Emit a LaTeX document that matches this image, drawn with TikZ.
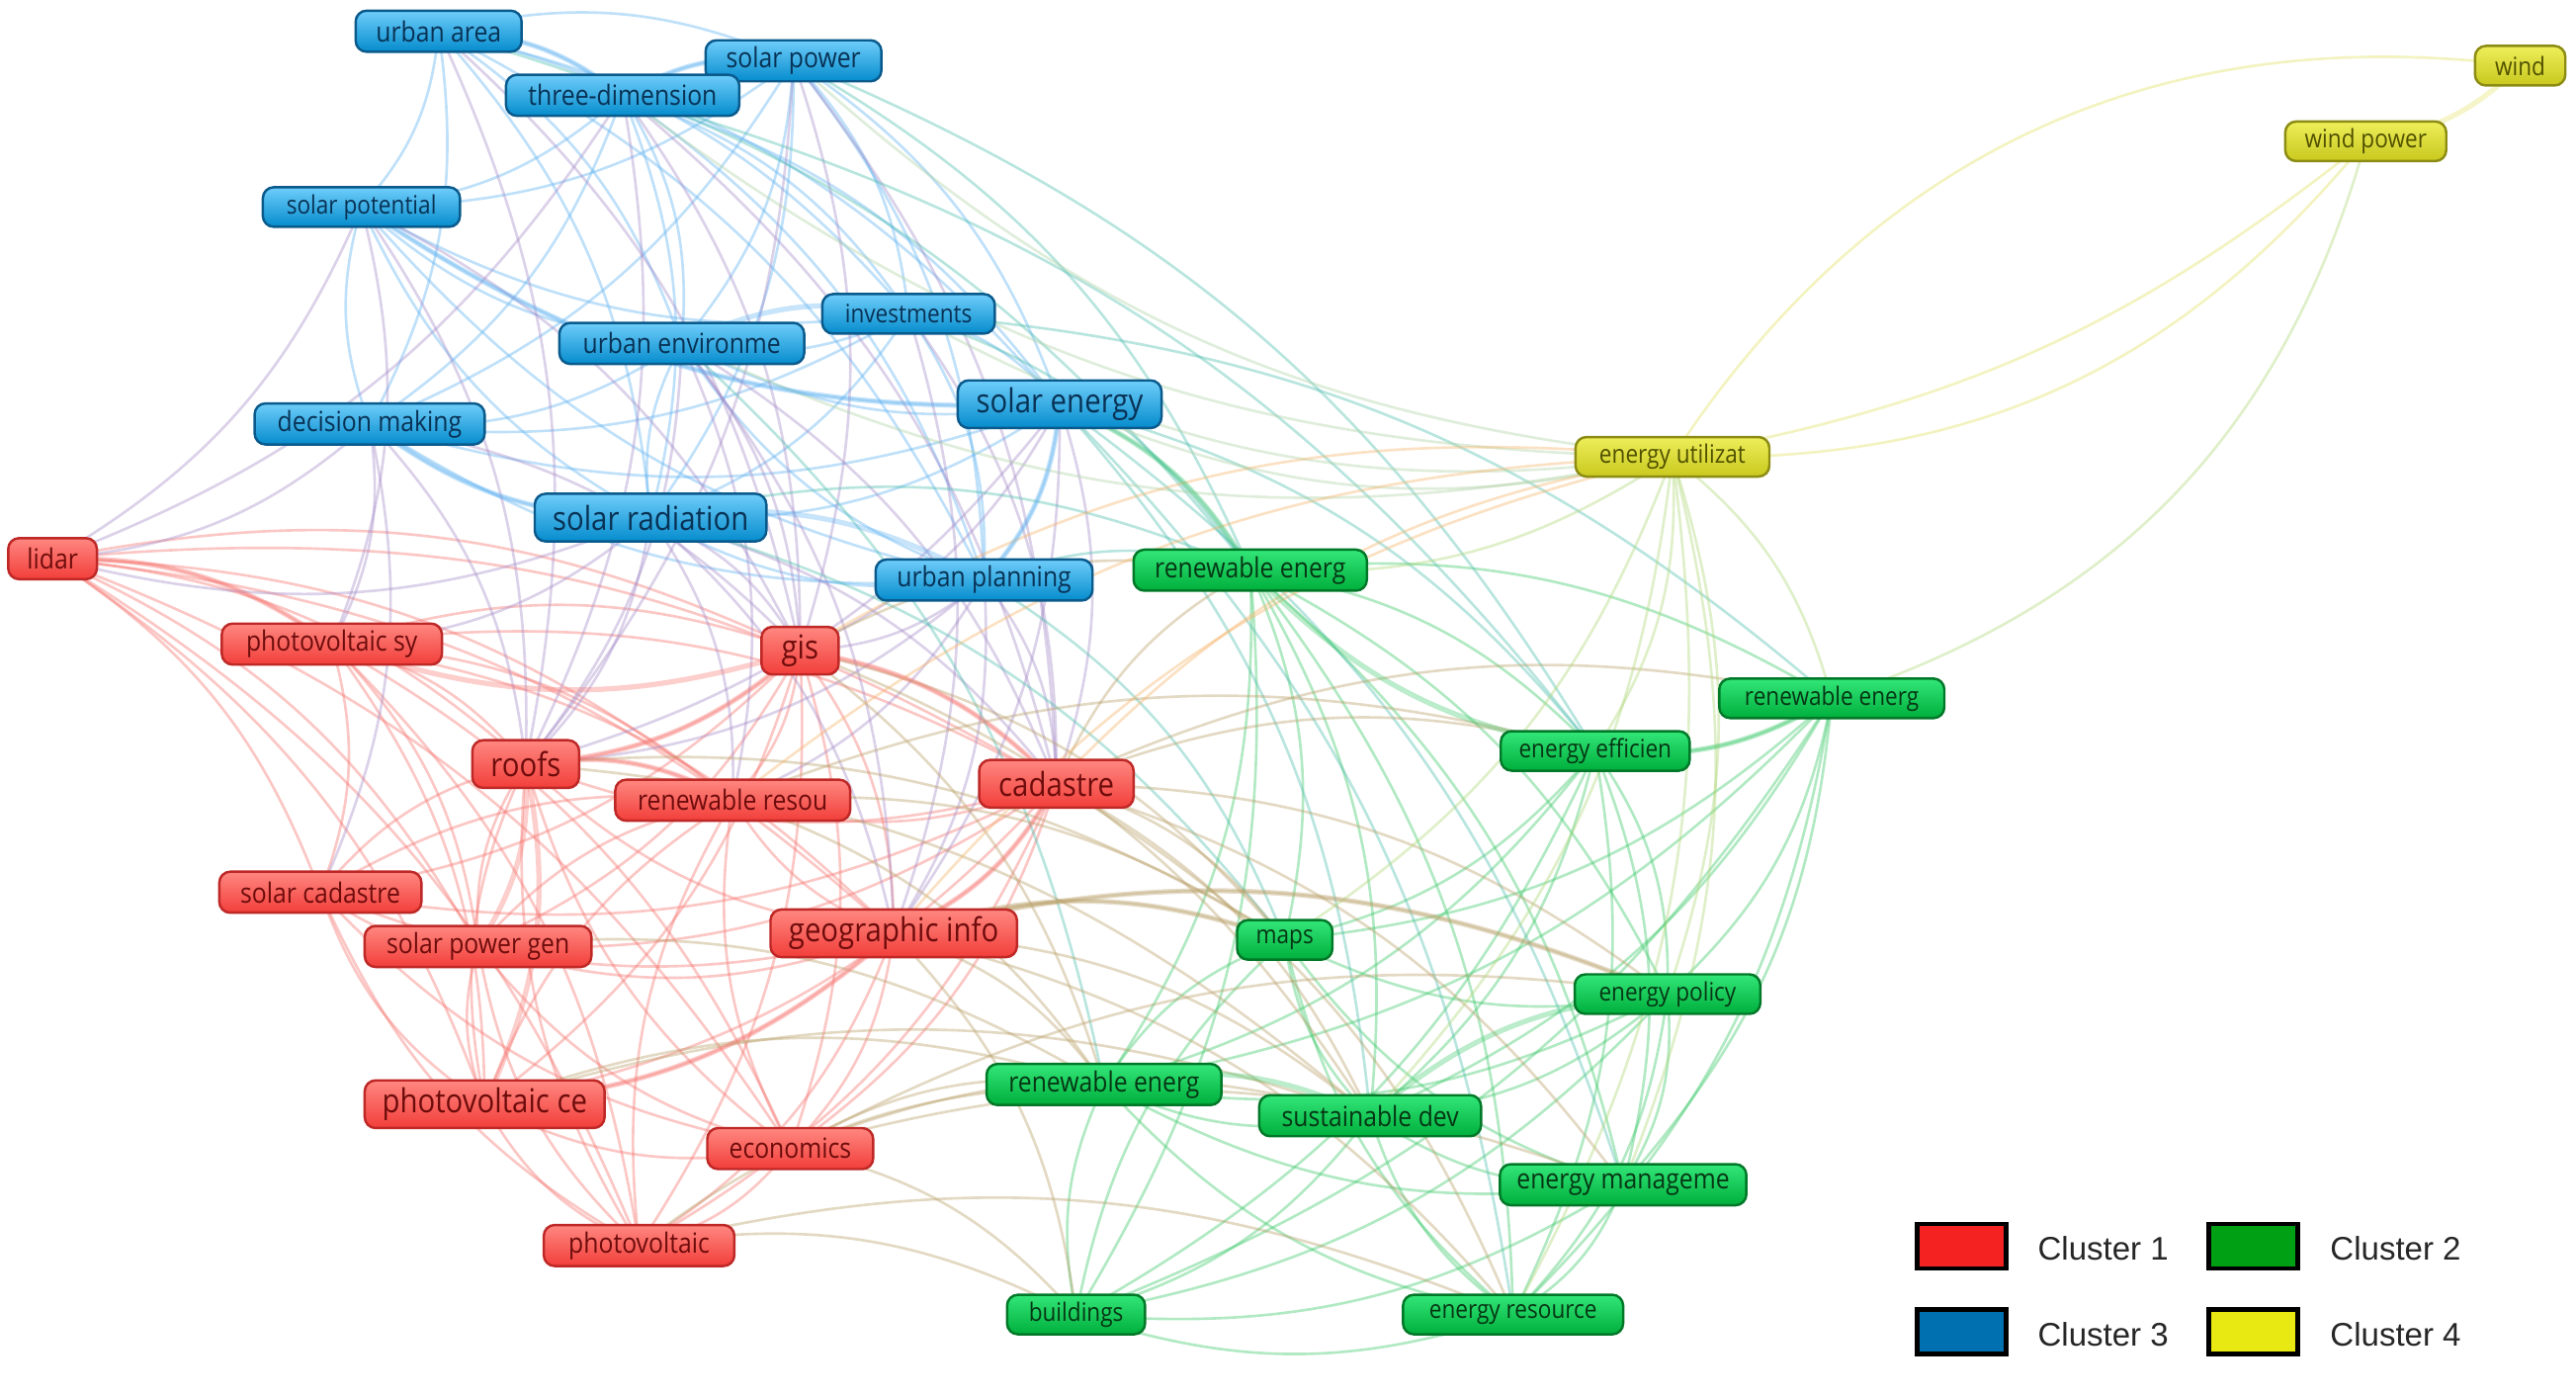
\documentclass[tikz,border=0pt]{standalone}
\usepackage{fontspec}
\newfontfamily\nodefont[FakeStretch=0.88]{Open Sans}
\newfontfamily\legfont{Liberation Sans}
\usetikzlibrary{backgrounds}
\definecolor{bTop}{RGB}{110,205,250}
\definecolor{bBot}{RGB}{5,140,205}
\definecolor{bDr}{RGB}{10,90,140}
\definecolor{bTx}{RGB}{8,50,85}
\definecolor{rTop}{RGB}{255,135,128}
\definecolor{rBot}{RGB}{242,62,58}
\definecolor{rDr}{RGB}{190,40,38}
\definecolor{rTx}{RGB}{110,12,12}
\definecolor{gTop}{RGB}{50,230,120}
\definecolor{gBot}{RGB}{0,175,60}
\definecolor{gDr}{RGB}{0,120,40}
\definecolor{gTx}{RGB}{5,55,20}
\definecolor{yTop}{RGB}{238,238,90}
\definecolor{yBot}{RGB}{200,200,30}
\definecolor{yDr}{RGB}{140,140,20}
\definecolor{yTx}{RGB}{80,80,0}
\definecolor{eBB}{RGB}{95,178,240}
\definecolor{eRR}{RGB}{245,115,110}
\definecolor{eGG}{RGB}{60,200,105}
\definecolor{eYY}{RGB}{225,225,100}
\definecolor{eBR}{RGB}{165,140,200}
\definecolor{eBG}{RGB}{80,190,175}
\definecolor{eRG}{RGB}{185,160,105}
\definecolor{eGY}{RGB}{175,215,120}
\definecolor{eRY}{RGB}{245,180,105}
\definecolor{eBY}{RGB}{175,210,165}
\definecolor{lRed}{RGB}{245,34,34}
\definecolor{lGreen}{RGB}{0,160,20}
\definecolor{lBlue}{RGB}{0,112,176}
\definecolor{lYellow}{RGB}{232,232,18}
\newcommand\kwnode[6]{\node[#1, minimum width=#2*0.01662cm] (#3) at (#4,#5) {#6};}
\newcommand\allpairs[2]{%
  \foreach \a [count=\i] in {#2} {\foreach \b [count=\j] in {#2} {%
    \ifnum\i<\j \draw[#1] (\a.center) to[bend left=18] (\b.center);\fi}}}
\newcommand\somepairs[2]{%
  \foreach \a/\b in {#2} {\draw[#1] (\a.center) to[bend left=18] (\b.center);}}
\begin{document}
\begin{tikzpicture}[x=0.01662cm,y=-0.01662cm,
  box/.style={rounded corners=0.11cm, inner sep=0pt, line width=0.7pt,
    minimum height=0.415cm, font=\nodefont\fontsize{8}{9}\selectfont},
  lg/.style={box, minimum height=0.482cm, font=\nodefont\fontsize{9.5}{10}\selectfont},
  sm/.style={box, minimum height=0.40cm, font=\nodefont\fontsize{7.3}{8}\selectfont},
  bc/.style={top color=bTop, bottom color=bBot, draw=bDr, text=bTx},
  rc/.style={top color=rTop, bottom color=rBot, draw=rDr, text=rTx},
  gc/.style={top color=gTop, bottom color=gBot, draw=gDr, text=gTx},
  yc/.style={top color=yTop, bottom color=yBot, draw=yDr, text=yTx},
  edge/.style={draw=#1, line width=0.75pt, draw opacity=0.4},
  thick edge/.style={draw=#1, line width=1.5pt, draw opacity=0.35},
  legbox/.style={draw=black, line width=1.3pt, minimum width=0.897cm, minimum height=0.449cm, inner sep=0pt},
  legtxt/.style={anchor=west, inner sep=0pt, font=\legfont\fontsize{9.4}{11}\selectfont, text=black!85}
]
\useasboundingbox (0,0) rectangle (1568,849);
% ---- blue cluster
\kwnode{box,bc}{101}{ua}{267}{19}{urban area}
\kwnode{box,bc}{107}{sp}{483}{37}{solar power}
\kwnode{box,bc}{142}{td}{379}{58}{three-dimension}
\kwnode{sm,bc}{120}{spot}{220}{126}{solar potential}
\kwnode{sm,bc}{105}{inv}{553}{191}{investments}
\kwnode{box,bc}{149}{ue}{415}{209}{urban environme}
\kwnode{lg,bc}{124}{se}{645}{246}{solar energy}
\kwnode{box,bc}{140}{dm}{225}{258}{decision making}
\kwnode{lg,bc}{141}{sr}{396}{315}{solar radiation}
\kwnode{box,bc}{132}{up}{599}{353}{urban planning}
% ---- red cluster
\kwnode{box,rc}{54}{li}{32}{340}{lidar}
\kwnode{box,rc}{134}{pvs}{202}{392}{photovoltaic sy}
\kwnode{lg,rc}{47}{gis}{487}{396}{gis}
\kwnode{lg,rc}{65}{roofs}{320}{465}{roofs}
\kwnode{box,rc}{143}{rr}{446}{487}{renewable resou}
\kwnode{lg,rc}{94}{cad}{643}{477}{cadastre}
\kwnode{box,rc}{123}{sc}{195}{543}{solar cadastre}
\kwnode{box,rc}{138}{spg}{291}{576}{solar power gen}
\kwnode{lg,rc}{150}{gi}{544}{568}{geographic info}
\kwnode{lg,rc}{146}{pvc}{295}{672}{photovoltaic ce}
\kwnode{box,rc}{101}{eco}{481}{699}{economics}
\kwnode{box,rc}{116}{pv}{389}{758}{photovoltaic}
% ---- green cluster
\kwnode{box,gc}{142}{reA}{761}{347}{renewable energ}
\kwnode{sm,gc}{137}{reB}{1115}{425}{renewable energ}
\kwnode{sm,gc}{115}{ee}{971}{457}{energy efficien}
\kwnode{sm,gc}{58}{maps}{782}{572}{maps}
\kwnode{sm,gc}{113}{ep}{1015}{605}{energy policy}
\kwnode{box,gc}{143}{reC}{672}{660}{renewable energ}
\kwnode{box,gc}{135}{sd}{834}{679}{sustainable dev}
\kwnode{box,gc}{150}{em}{988}{721}{energy manageme}
\kwnode{sm,gc}{84}{bld}{655}{800}{buildings}
\kwnode{sm,gc}{134}{er}{921}{800}{energy resource}
% ---- yellow cluster
\kwnode{sm,yc}{55}{wind}{1534}{40}{wind}
\kwnode{sm,yc}{98}{wp}{1440}{86}{wind power}
\kwnode{sm,yc}{118}{eu}{1018}{278}{energy utilizat}
% ---- legend
\node[legbox, fill=lRed] (lr) at (1194,758.5) {};
\node[legbox, fill=lGreen] (lgn) at (1371.5,758.5) {};
\node[legbox, fill=lBlue] (lb) at (1194,810.5) {};
\node[legbox, fill=lYellow] (ly) at (1371.5,810.5) {};
\node[legtxt] (t1) at (1240,760) {Cluster 1};
\node[legtxt] (t2) at (1418,760) {Cluster 2};
\node[legtxt] (t3) at (1240,812) {Cluster 3};
\node[legtxt] (t4) at (1418,812) {Cluster 4};
% ---- edges
\begin{pgfonlayer}{background}
\allpairs{edge=eBB}{ua,td,sp,inv,se,up,sr,ue,dm,spot}
\allpairs{edge=eRR}{li,pvs,gis,cad,gi,eco,pv,pvc,spg,sc,roofs,rr}
\allpairs{edge=eGG}{reA,reB,ee,ep,em,er,sd,bld,reC,maps}
\somepairs{edge=eBR}{sr/gis,sr/roofs,sr/cad,sr/gi,sr/pvs,sr/li,se/gis,se/cad,se/gi,se/roofs,
  up/gis,up/cad,up/gi,up/roofs,dm/pvs,dm/li,dm/roofs,dm/gis,spot/li,spot/roofs,spot/gis,
  ue/gis,ue/gi,ue/roofs,ue/cad,td/gis,td/roofs,td/cad,td/li,inv/cad,inv/gi,ua/gis,ua/roofs,
  sp/gis,sp/roofs,sp/cad,dm/sc,spot/pvs,ue/rr,sr/rr,up/rr}
\somepairs{edge=eBG}{se/reA,se/ee,se/sd,up/reA,up/maps,inv/reA,sp/reA,sp/ee,td/ee,ue/reC,
  sr/reA,sr/maps,se/er,se/em,inv/reB,ua/reA}
\somepairs{edge=eBY}{eu/se,eu/sp,eu/inv,eu/td,eu/ue}
\somepairs{edge=eRG}{gi/maps,gi/reC,gi/sd,gi/ep,gi/bld,cad/maps,cad/sd,cad/reA,cad/ep,cad/em,
  cad/ee,gis/reA,gis/reC,gis/maps,gis/sd,eco/reC,eco/sd,eco/bld,eco/ep,pv/bld,pv/reC,pv/er,
  pvc/reC,pvc/sd,rr/reC,rr/maps,rr/ee,roofs/sd,roofs/maps,spg/reC,cad/er,gi/er,cad/reB,eco/em}
\somepairs{edge=eRY}{cad/eu,gis/eu,gi/eu,rr/eu}
\somepairs{edge=eGY}{eu/reA,eu/reB,eu/ee,eu/ep,eu/em,eu/er,eu/sd,eu/maps}
\draw[edge=eGY] (wp.center) to[bend left=28] (reB.center);
\draw[edge=eYY] (eu.center) to[bend left=32] (wind.center);
\draw[edge=eYY] (wp.center) to[bend left=14] (eu.center);
\draw[edge=eYY] (wp.center) to[bend left=26] (eu.center);
\draw[thick edge=eYY] (wind.center) to[bend left=18] (wp.center);
\somepairs{thick edge=eBB}{se/up,td/sp,ua/td,se/spot,sr/dm,ue/inv,sr/up}
\somepairs{thick edge=eRR}{gis/roofs,gis/pvs,roofs/pvc,roofs/spg,cad/gi,gis/cad,li/pvs,gi/pvc,roofs/rr}
\somepairs{thick edge=eGG}{se/reA,reB/ee,sd/ep,reC/sd,ee/reA}
\somepairs{thick edge=eRG}{gi/ep,gi/maps}
\end{pgfonlayer}
\end{tikzpicture}
\end{document}
